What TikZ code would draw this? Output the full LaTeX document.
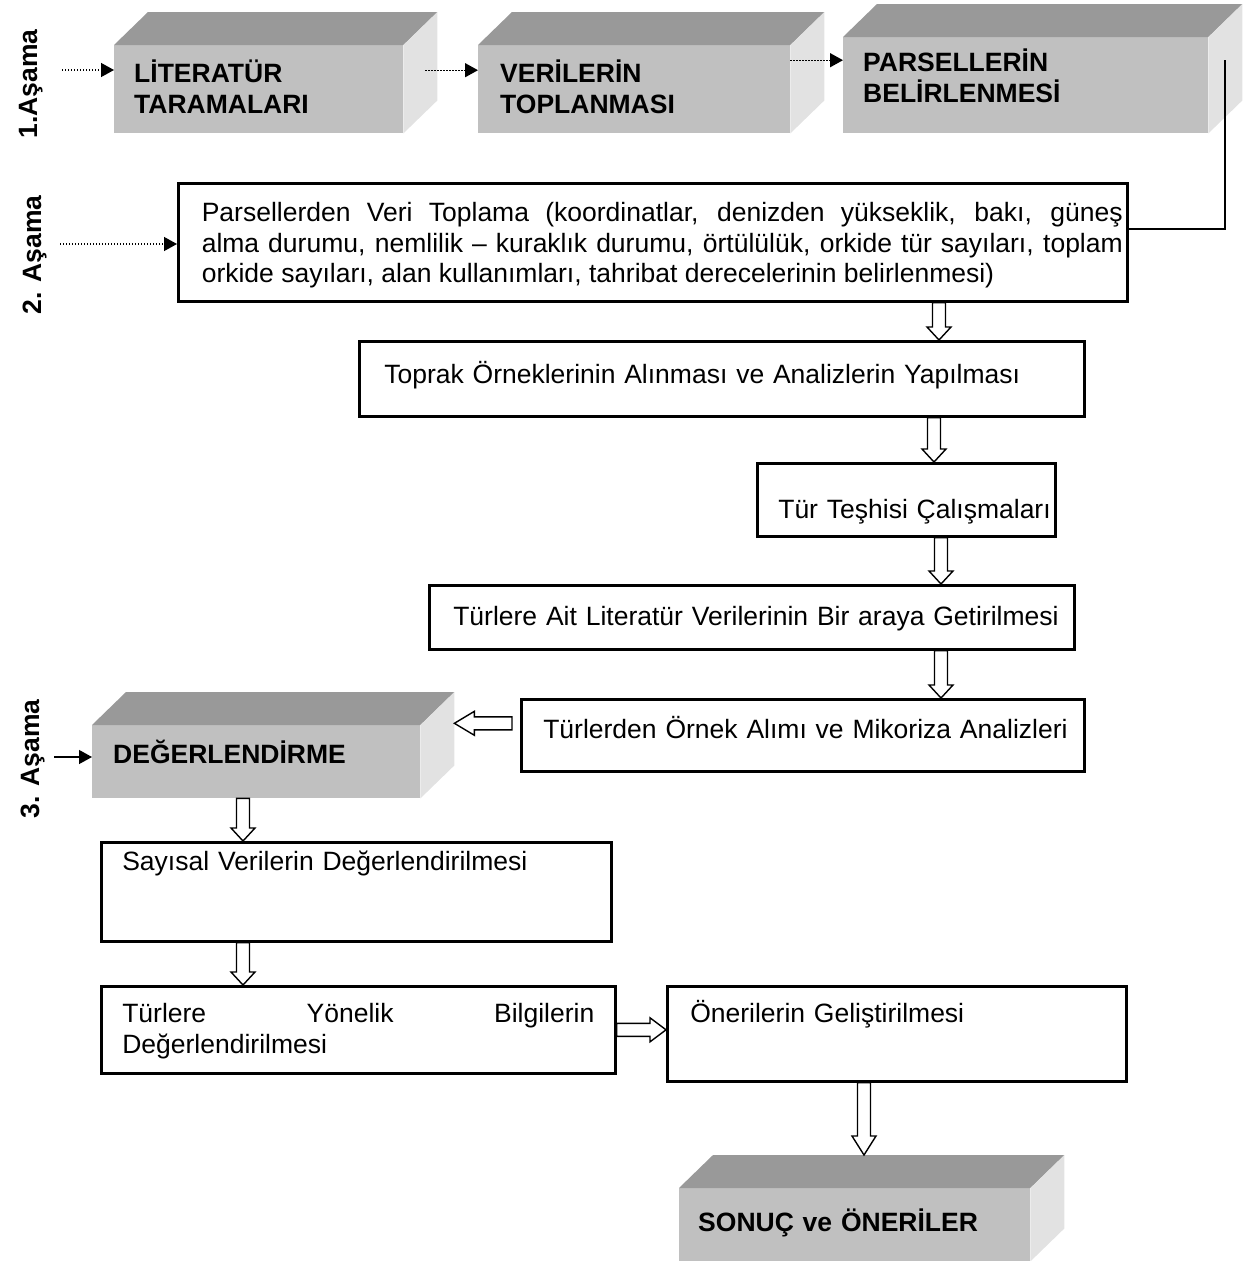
\documentclass[tikz,border=0pt]{standalone}
\usepackage{fontspec}
\setmainfont{Liberation Sans}
\usetikzlibrary{arrows.meta,calc}

\definecolor{frontgray}{HTML}{C0C0C0}
\definecolor{topgray}{HTML}{999999}
\definecolor{sidegray}{HTML}{E2E2E2}

\tikzset{
  boxgeom/.style n args={4}{anchor=north west, inner sep=0pt, align=left,
    text width=#1pt, text height=#3pt, text depth=#4pt,
    execute at begin node={\leftskip=#2pt\relax}},
  flow/.style={draw, line width=2.6pt},
  cube/.style={fill=frontgray, font=\fontsize{26.5}{30.5}\selectfont\bfseries},
  stage/.style={font=\fontsize{26.5}{30.5}\selectfont\bfseries, rotate=90, anchor=base, inner sep=0pt},
  dotarrow/.style={line width=1.4pt, dash pattern=on 1.4pt off 1.6pt, -{Triangle[length=13pt,width=14pt]}},
  solidarrow/.style={line width=1.3pt, -{Triangle[length=13pt,width=14pt]}},
  hollow/.style={draw, line width=1.4pt, fill=white, to path={
      coordinate (hS) at (\tikztostart) coordinate (hT) at (\tikztotarget)
      coordinate (hB) at ($(hT)!#1!(hS)$)
      ($(hS)!6.5pt!90:(hT)$) -- ($(hB)!6.5pt!90:(hT)$) -- ($(hB)!12pt!90:(hT)$) -- (hT)
      -- ($(hB)!12pt!-90:(hT)$) -- ($(hB)!6.5pt!-90:(hT)$) -- ($(hS)!6.5pt!-90:(hT)$) -- cycle}},
  hollow/.default=13pt
}

\begin{document}
\begin{tikzpicture}[x=1pt, y=-1pt, font=\fontsize{26.5}{30.5}\selectfont]
\useasboundingbox (0,0) rectangle (1247,1261);

% asamalar
\node[stage] (s1) at (37,84) {1.Aşama};
\node[stage] (s2) at (41,255) {2. Aşama};
\node[stage] (s3) at (39,759) {3. Aşama};

% kutular
\node[cube, boxgeom={289}{20}{37.5}{50.5}] (lit) at (114,45) {LİTERATÜR\\TARAMALARI};
\node[cube, boxgeom={312}{22}{37.5}{50.5}] (ver) at (478,45) {VERİLERİN\\TOPLANMASI};
\node[cube, boxgeom={365}{20}{34.5}{61.5}] (par) at (843,37) {PARSELLERİN\\BELİRLENMESİ};

\node[flow, boxgeom={940}{19}{38.5}{79.5}, inner xsep=4.5pt, align=justify] (veri) at (177,182)
  {Parsellerden Veri Toplama (koordinatlar, denizden yükseklik, bakı, güneş\linebreak
   alma durumu, nemlilik – kuraklık durumu, örtülülük, orkide tür sayıları, toplam\linebreak
   orkide sayıları, alan kullanımları, tahribat derecelerinin belirlenmesi)};
\node[flow, boxgeom={725}{25}{42.5}{32.5}] (toprak) at (358,340) {Toprak Örneklerinin Alınması ve Analizlerin Yapılması};
\node[flow, boxgeom={298}{21}{55.5}{17.5}] (tur) at (756,462) {Tür Teşhisi Çalışmaları};
\node[flow, boxgeom={645}{24}{40.5}{23.5}] (ait) at (428,584) {Türlere Ait Literatür Verilerinin Bir araya Getirilmesi};
\node[flow, boxgeom={563}{22}{39.5}{32.5}] (ornek) at (520,698) {Türlerden Örnek Alımı ve Mikoriza Analizleri};

\node[cube, boxgeom={328}{21}{38.5}{34.5}] (deg) at (92,725) {DEĞERLENDİRME};

\node[flow, boxgeom={510}{21}{28.5}{70.5}] (sayisal) at (100,841) {Sayısal Verilerin Değerlendirilmesi};
\node[flow, boxgeom={472}{0}{36.5}{50.5}, inner xsep=21pt, align=justify] (yonelik) at (100,985)
  {Türlere Yönelik Bilgilerin\linebreak Değerlendirilmesi};
\node[flow, boxgeom={459}{23}{36.5}{58.5}] (oneri) at (666,985) {Önerilerin Geliştirilmesi};

\node[cube, boxgeom={351}{19}{43.5}{29.5}] (son) at (679,1188) {SONUÇ ve ÖNERİLER};

% ust ve yan yuzler
\foreach \b in {lit,ver,par,deg,son}{
  \fill[topgray] (\b.north west) -- ++(34,-33) -- ($(\b.north east)+(34,-33)$) -- (\b.north east) -- cycle;
  \fill[sidegray] (\b.north east) -- ++(34,-33) -- ($(\b.south east)+(34,-33)$) -- (\b.south east) -- cycle;
}

% giris oklari
\coordinate (in1) at (62,70);
\coordinate (in2) at (60,244);
\coordinate (in3) at (54,757);
\draw[dotarrow] (in1) -- (in1 -| lit.west);
\draw[dotarrow] ($(lit.east)+(22,-19)$) -- ($(ver.west)+(0,-19)$);
\draw[dotarrow] ($(ver.east)+(0,-29)$) -- ($(par.west)+(0,-25)$);
\draw[dotarrow] (in2) -- (in2 -| veri.west);
\draw[solidarrow] (in3) -- (in3 -| deg.west);

\coordinate (parpin) at (1225,60);
\draw[line width=1.7pt] (parpin) |- ([yshift=13pt]veri.east);

% bos oklar
\coordinate (degback) at ($(deg.east)+(34,0)$);
\coordinate (sonback) at ($(son.north)+(0,-33)$);
\draw[hollow] (veri.south -| 939,0) to (toprak.north -| 939,0);
\draw[hollow] (toprak.south -| 934,0) to (tur.north -| 934,0);
\draw[hollow] (tur.south -| 941,0) to (ait.north -| 941,0);
\draw[hollow] (ait.south -| 941,0) to (ornek.north -| 941,0);
\draw[hollow=20pt] ($(ornek.west)+(-8,-12)$) to ($(ornek.west -| degback)+(0,-12)$);
\draw[hollow] (deg.south -| 243,0) to (sayisal.north -| 243,0);
\draw[hollow] (sayisal.south -| 243,0) to (yonelik.north -| 243,0);
\draw[hollow=16pt] (yonelik.east) to (yonelik.east -| oneri.west);
\draw[hollow=19pt] (oneri.south -| 864,0) to (864,0 |- sonback);
\end{tikzpicture}
\end{document}
